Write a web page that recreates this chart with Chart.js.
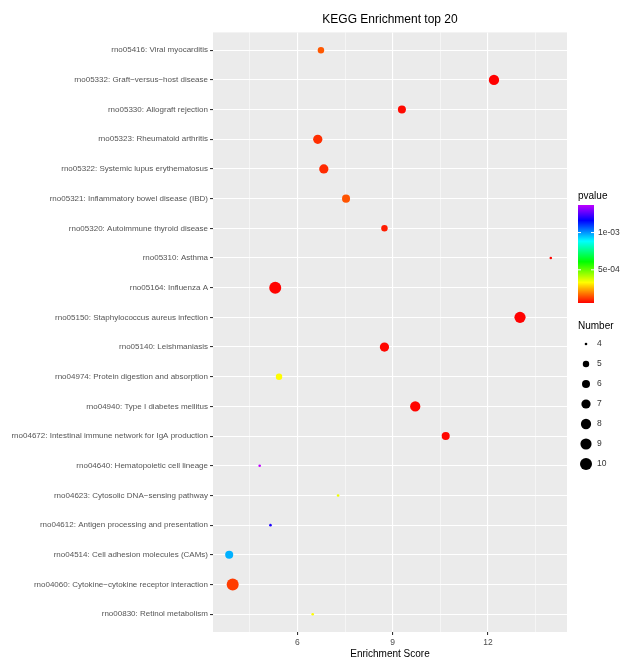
<!DOCTYPE html>
<html>
<head>
<meta charset="utf-8">
<script src="https://cdn.jsdelivr.net/npm/chart.js@4.4.1/dist/chart.umd.min.js"></script>
<style>
  html, body { margin: 0; padding: 0; background: #fff; }
  #wrap { width: 621px; height: 661px; }
</style>
</head>
<body>
<div id="wrap"><canvas id="kegg" width="621" height="661"></canvas></div>
<script>
// KEGG pathways, listed top to bottom
const pathways = [
    "rno05416: Viral myocarditis",
    "rno05332: Graft−versus−host disease",
    "rno05330: Allograft rejection",
    "rno05323: Rheumatoid arthritis",
    "rno05322: Systemic lupus erythematosus",
    "rno05321: Inflammatory bowel disease (IBD)",
    "rno05320: Autoimmune thyroid disease",
    "rno05310: Asthma",
    "rno05164: Influenza A",
    "rno05150: Staphylococcus aureus infection",
    "rno05140: Leishmaniasis",
    "rno04974: Protein digestion and absorption",
    "rno04940: Type I diabetes mellitus",
    "rno04672: Intestinal immune network for IgA production",
    "rno04640: Hematopoietic cell lineage",
    "rno04623: Cytosolic DNA−sensing pathway",
    "rno04612: Antigen processing and presentation",
    "rno04514: Cell adhesion molecules (CAMs)",
    "rno04060: Cytokine−cytokine receptor interaction",
    "rno00830: Retinol metabolism"
];
const enrichScore = [6.74, 12.19, 9.29, 6.64, 6.83, 7.53, 8.74, 13.98, 5.30, 13.01,
                     8.74, 5.42, 9.71, 10.67, 4.81, 7.28, 5.15, 3.85, 3.96, 6.48];
const pvalue = [1.5e-4, 5.5e-5, 6.5e-5, 1.05e-4, 1.0e-4, 1.45e-4, 8.5e-5, 6.0e-5, 5.8e-5, 5.6e-5,
                6.2e-5, 3.3e-4, 5.9e-5, 6.3e-5, 1.37e-3, 3.5e-4, 1.19e-3, 9.7e-4, 1.2e-4, 3.3e-4];
const geneNumber = [5, 8, 6, 7, 7, 6, 5, 4, 10, 9,
                    7, 5, 8, 6, 4, 4, 4, 6, 10, 4];

const xTicks = [4.5, 6, 7.5, 9, 10.5, 12, 13.5];
const xLabels = [6, 9, 12];
const pvalueBreaks = [1e-3, 5e-4];
const pvalueBreakLabels = ["1e-03", "5e-04"];
const numberBreaks = [4, 5, 6, 7, 8, 9, 10];

const FONT = '"Liberation Sans", Arial, sans-serif';

// colour and size scales use the data range
const pMin = Math.min(...pvalue), pMax = Math.max(...pvalue);
const nMin = Math.min(...geneNumber), nMax = Math.max(...geneNumber);

function pColor(p) {
    const t = Math.max(0, Math.min(1, (p - pMin) / (pMax - pMin)));
    return `hsl(${(285 * t).toFixed(1)}, 100%, 50%)`;
}
function nRadius(n) {
    return 1.3 + 4.7 * Math.sqrt((n - nMin) / (nMax - nMin));
}

const points = pathways.map((_, i) => ({ x: enrichScore[i], y: i }));

// grey panel behind the grid
const panelBg = {
    id: "panelBg",
    beforeDraw(chart) {
        const { ctx, chartArea: a } = chart;
        ctx.save();
        ctx.fillStyle = "#ebebeb";
        ctx.fillRect(a.left, a.top, a.right - a.left, a.bottom - a.top);
        ctx.restore();
    }
};

// pvalue colourbar + Number size legend on the right
const sideLegends = {
    id: "sideLegends",
    afterDraw(chart) {
        const ctx = chart.ctx;
        ctx.save();

        // colourbar
        const bx = 578, bw = 16, top = 205, bottom = 303;
        ctx.fillStyle = "#000";
        ctx.font = `10px ${FONT}`;
        ctx.textBaseline = "middle";
        ctx.textAlign = "left";
        ctx.fillText("pvalue", bx, 196);
        for (let y = top; y < bottom; y++) {
            const p = pMax - (y - top + 0.5) / (bottom - top) * (pMax - pMin);
            ctx.fillStyle = pColor(p);
            ctx.fillRect(bx, y, bw, 1);
        }
        ctx.font = `8.5px ${FONT}`;
        pvalueBreaks.forEach((p, i) => {
            const y = bottom - (p - pMin) / (pMax - pMin) * (bottom - top);
            ctx.strokeStyle = "#fff";
            ctx.lineWidth = 1;
            ctx.beginPath();
            ctx.moveTo(bx, y); ctx.lineTo(bx + 3, y);
            ctx.moveTo(bx + bw - 3, y); ctx.lineTo(bx + bw, y);
            ctx.stroke();
            ctx.fillStyle = "#333";
            ctx.fillText(pvalueBreakLabels[i], bx + bw + 4, y);
        });

        // size legend
        ctx.fillStyle = "#000";
        ctx.font = `10px ${FONT}`;
        ctx.fillText("Number", 578, 326);
        ctx.font = `8.5px ${FONT}`;
        numberBreaks.forEach((n, i) => {
            const y = 344 + i * 20;
            ctx.fillStyle = "#000";
            ctx.beginPath();
            ctx.arc(586, y, nRadius(n), 0, Math.PI * 2);
            ctx.fill();
            ctx.fillStyle = "#333";
            ctx.fillText(String(n), 597, y);
        });
        ctx.restore();
    }
};

new Chart(document.getElementById("kegg"), {
    type: "scatter",
    data: {
        datasets: [{
            data: points,
            pointRadius: geneNumber.map(nRadius),
            pointHoverRadius: geneNumber.map(nRadius),
            backgroundColor: pvalue.map(pColor),
            borderWidth: 0
        }]
    },
    options: {
        responsive: false,
        animation: false,
        devicePixelRatio: 1,
        layout: { padding: { left: 0, right: 54, top: 0, bottom: 0 } },
        plugins: {
            legend: { display: false },
            tooltip: { enabled: false },
            title: {
                display: true,
                text: "KEGG Enrichment top 20",
                fullSize: false,
                color: "#000",
                font: { family: FONT, size: 12, weight: "normal" },
                padding: { top: 12, bottom: 6 }
            }
        },
        scales: {
            x: {
                type: "linear",
                min: 3.34,
                max: 14.49,
                afterBuildTicks: s => { s.ticks = xTicks.map(v => ({ value: v })); },
                afterFit: s => { s.height = 29; },
                border: { display: false },
                grid: {
                    color: "#fff",
                    lineWidth: c => xLabels.includes(c.tick.value) ? 1.1 : 0.5,
                    tickColor: c => xLabels.includes(c.tick.value) ? "#333" : "rgba(0,0,0,0)",
                    tickLength: 3
                },
                ticks: {
                    autoSkip: false,
                    maxRotation: 0,
                    padding: 3,
                    color: "#4d4d4d",
                    font: { family: FONT, size: 8.5 },
                    callback: v => xLabels.includes(v) ? String(v) : ""
                },
                title: {
                    display: true,
                    text: "Enrichment Score",
                    color: "#000",
                    font: { family: FONT, size: 10 },
                    padding: { top: 0, bottom: 1 }
                }
            },
            y: {
                type: "linear",
                reverse: true,
                min: -0.6,
                max: pathways.length - 0.4,
                afterBuildTicks: s => { s.ticks = pathways.map((_, i) => ({ value: i })); },
                afterFit: s => { s.width = 213; },
                border: { display: false },
                grid: { color: "#fff", lineWidth: 1.1, tickColor: "#333", tickLength: 3 },
                ticks: {
                    autoSkip: false,
                    padding: 2,
                    color: "#555",
                    font: { family: FONT, size: 8 },
                    callback: v => pathways[v]
                }
            }
        }
    },
    plugins: [panelBg, sideLegends]
});
</script>
</body>
</html>
